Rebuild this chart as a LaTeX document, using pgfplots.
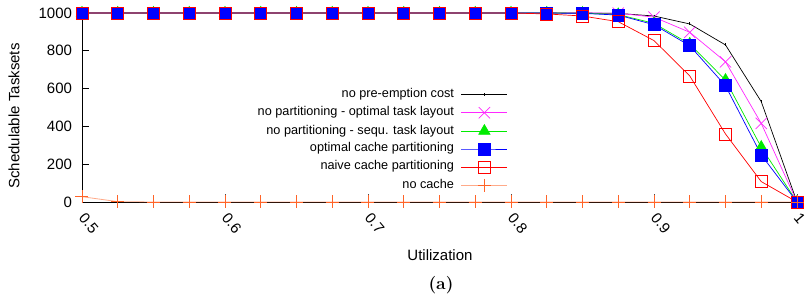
\documentclass[border=0pt]{standalone}
\usepackage{fontspec}
\usepackage{pgfplots}
\pgfplotsset{compat=1.18}
\newfontfamily\arial{Liberation Sans}
\definecolor{cmag}{RGB}{255,40,255}
\definecolor{cgreen}{RGB}{0,235,0}
\definecolor{cblue}{RGB}{0,0,255}
\definecolor{cred}{RGB}{255,0,0}
\definecolor{corange}{RGB}{255,100,40}
\begin{document}
\begin{tikzpicture}
\useasboundingbox (-82pt,-97pt) rectangle (727pt,202pt);
\begin{axis}[
  at={(0pt,0pt)}, anchor=south west,
  scale only axis, width=715pt, height=189pt,
  xmin=0.5, xmax=1.0, ymin=0, ymax=1000,
  clip=false,
  axis x line=bottom, axis y line=left,
  axis line style={-, black, line width=0.9pt},
  xtick={0.5,0.6,0.7,0.8,0.9,1.0},
  xticklabels={0.5,0.6,0.7,0.8,0.9,1},
  ytick={0,200,400,600,800,1000},
  tick align=inside,
  major tick length=7.5pt,
  every x tick/.style={black!70, line width=0.8pt},
  every y tick/.style={black, line width=0.8pt},
  /pgf/number format/assume math mode=true,
  /pgf/number format/1000 sep={},
  tick label style={font=\arial\fontsize{15}{18}\selectfont},
  yticklabel style={xshift=-6.5pt},
  xticklabel style={inner sep=0pt, anchor=west, yshift=-13pt, rotate=-50},
  ylabel={Schedulable Tasksets},
  xlabel={Utilization},
  every axis y label/.style={at={(axis description cs:-0.0951,0.455)}, rotate=90, anchor=center, font=\arial\fontsize{15}{18}\selectfont},
  every axis x label/.style={at={(axis description cs:0.5007,-0.2804)}, anchor=center, font=\arial\fontsize{15}{18}\selectfont},
  legend plot pos=right,
  legend cell align=right,
  legend style={draw=none, fill=none, at={(axis description cs:0.5958,0.60)}, anchor=north east,
    font=\arial\fontsize{12.7}{15}\selectfont, inner sep=0pt, row sep=5.9pt, column sep=7pt,
    nodes={inner sep=0pt, text height=9pt, text depth=3pt}},
  legend image code/.code={\draw[mark repeat=2,mark phase=2,#1] plot coordinates {(0pt,0pt) (23pt,0pt) (46pt,0pt)};},
]
\addplot[black, line width=0.7pt, mark=|, mark size=1.5pt] coordinates {
(0.5,1000)(0.525,1000)(0.55,1000)(0.575,1000)(0.6,1000)(0.625,1000)(0.65,1000)(0.675,1000)(0.7,1000)(0.725,1000)(0.75,1000)(0.775,1000)(0.8,1000)(0.825,1000)(0.85,1000)(0.875,998)(0.9,984)(0.925,942)(0.95,831)(0.975,531)(1.0,0)};
\addlegendentry{no pre-emption cost}
\addplot[cmag, line width=0.7pt, mark=x, mark size=8pt] coordinates {
(0.5,1000)(0.525,1000)(0.55,1000)(0.575,1000)(0.6,1000)(0.625,1000)(0.65,1000)(0.675,1000)(0.7,1000)(0.725,1000)(0.75,1000)(0.775,1000)(0.8,1000)(0.825,1000)(0.85,1000)(0.875,999)(0.9,978)(0.925,898)(0.95,742)(0.975,416)(1.0,0)};
\addlegendentry{no partitioning - optimal task layout}
\addplot[cgreen, line width=0.7pt, mark=triangle*, mark size=6.5pt] coordinates {
(0.5,1000)(0.525,1000)(0.55,1000)(0.575,1000)(0.6,1000)(0.625,1000)(0.65,1000)(0.675,1000)(0.7,1000)(0.725,1000)(0.75,1000)(0.775,1000)(0.8,1000)(0.825,1000)(0.85,999)(0.875,992)(0.9,945)(0.925,836)(0.95,645)(0.975,290)(1.0,0)};
\addlegendentry{no partitioning - sequ. task layout}
\addplot[cblue, line width=0.7pt, mark=square*, mark size=6pt] coordinates {
(0.5,1000)(0.525,1000)(0.55,1000)(0.575,1000)(0.6,1000)(0.625,1000)(0.65,1000)(0.675,1000)(0.7,1000)(0.725,1000)(0.75,1000)(0.775,1000)(0.8,1000)(0.825,1000)(0.85,998)(0.875,989)(0.9,938)(0.925,827)(0.95,615)(0.975,249)(1.0,0)};
\addlegendentry{optimal cache partitioning}
\addplot[cred, line width=0.7pt, mark=square, mark size=6pt] coordinates {
(0.5,1000)(0.525,1000)(0.55,1000)(0.575,1000)(0.6,1000)(0.625,1000)(0.65,1000)(0.675,1000)(0.7,1000)(0.725,1000)(0.75,1000)(0.775,1000)(0.8,1000)(0.825,995)(0.85,984)(0.875,954)(0.9,854)(0.925,667)(0.95,360)(0.975,108)(1.0,0)};
\addlegendentry{naive cache partitioning}
\addplot[corange, line width=0.8pt, draw opacity=0.55, mark=+, mark size=6.5pt, mark options={draw opacity=1}] coordinates {
(0.5,28)(0.525,2)(0.55,0)(0.575,0)(0.6,0)(0.625,0)(0.65,0)(0.675,0)(0.7,0)(0.725,0)(0.75,0)(0.775,0)(0.8,0)(0.825,0)(0.85,0)(0.875,0)(0.9,0)(0.925,0)(0.95,0)(0.975,0)(1.0,0)};
\addlegendentry{no cache}
\node[font=\bfseries\fontsize{17.5}{20}\selectfont] at (axis description cs:0.5021,-0.439) {(a)};
\end{axis}
\end{tikzpicture}
\end{document}
